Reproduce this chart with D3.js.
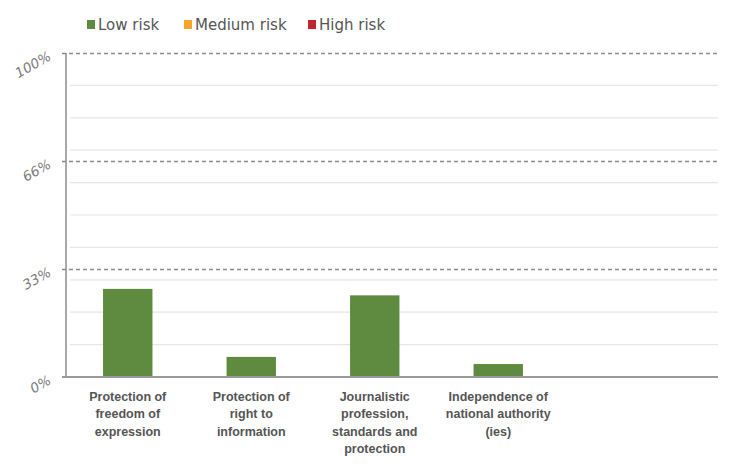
<!DOCTYPE html>
<html>
<head>
<meta charset="utf-8">
<script src="https://cdn.jsdelivr.net/npm/d3@7"></script>
<style>
  body { margin: 0; background: #fff; }
  #chart { width: 750px; height: 470px; }
</style>
</head>
<body>
<div id="chart"></div>
<script>
// data
const categories = [
    ["Protection of", "freedom of", "expression"],
    ["Protection of", "right to", "information"],
    ["Journalistic", "profession,", "standards and", "protection"],
    ["Independence of", "national authority", "(ies)"]
];
const lowRisk = [27.2, 6.2, 25.2, 4.0];
const riskLabels = ["Low risk", "Medium risk", "High risk"];
const riskColors = ["#5e8b3f", "#f5a52a", "#c0272d"];
const thresholds = [0, 100 / 3, 200 / 3, 100];
const thresholdLabels = ["0%", "33%", "66%", "100%"];
const gridValues = [10, 20, 30, 40, 50, 60, 70, 80, 90];

const width = 750, height = 470;
const margin = { top: 53, right: 32, bottom: 93, left: 66 };
const mheight = height - margin.top - margin.bottom;
const mwidth = width - margin.left - margin.right;

const svg = d3.select("#chart").append("svg")
    .attr("width", width)
    .attr("height", height);

const yScale = d3.scaleLinear().domain([0, 100]).range([mheight, 0]);
const xScale = d3.scaleBand()
    .domain(d3.range(categories.length))
    .range([0, 494])
    .paddingInner(0.6)
    .paddingOuter(0.3);

const g = svg.append("g")
    .attr("transform", "translate(" + margin.left + "," + margin.top + ")");

// light gridlines
g.selectAll(".grid")
    .data(gridValues)
    .enter().append("line")
    .attr("x1", 4).attr("x2", mwidth)
    .attr("y1", d => yScale(d)).attr("y2", d => yScale(d))
    .attr("stroke", "#e6e6e6")
    .attr("stroke-width", 1.2);

// dashed threshold lines
g.selectAll(".thr")
    .data(thresholds.slice(1))
    .enter().append("line")
    .attr("x1", -4).attr("x2", mwidth)
    .attr("y1", d => Math.round(yScale(d)) + 0.5).attr("y2", d => Math.round(yScale(d)) + 0.5)
    .attr("stroke", "#8a8a8a")
    .attr("stroke-width", 1.3)
    .attr("stroke-dasharray", "4,3");

// y axis
g.append("line")
    .attr("x1", 0).attr("x2", 0)
    .attr("y1", 0).attr("y2", mheight)
    .attr("stroke", "#8c8c8c")
    .attr("stroke-width", 1.5);

g.selectAll(".ylab")
    .data(thresholds)
    .enter().append("text")
    .attr("transform", d => "translate(-14," + (yScale(d) + 6) + ") rotate(-30)")
    .attr("text-anchor", "end")
    .style("font-family", "'DejaVu Sans', sans-serif")
    .style("font-style", "italic")
    .style("font-size", "13.5px")
    .style("fill", "#7a7a7a")
    .text((d, i) => thresholdLabels[i]);

// bars
g.selectAll(".bar")
    .data(lowRisk)
    .enter().append("rect")
    .attr("x", (d, i) => xScale(i))
    .attr("width", xScale.bandwidth())
    .attr("y", d => yScale(d))
    .attr("height", d => mheight - yScale(d))
    .style("fill", riskColors[0]);

// x axis line
g.append("line")
    .attr("x1", -4).attr("x2", mwidth)
    .attr("y1", mheight).attr("y2", mheight)
    .attr("stroke", "#9a9a9a")
    .attr("stroke-width", 2);

// category labels
const lab = g.selectAll(".xlab")
    .data(categories)
    .enter().append("text")
    .attr("text-anchor", "middle")
    .style("font-family", "'Liberation Sans', Arial, sans-serif")
    .style("font-weight", "bold")
    .style("font-size", "12.5px")
    .style("fill", "#555");

lab.selectAll("tspan")
    .data((d, i) => d.map(t => ({ t: t, i: i })))
    .enter().append("tspan")
    .attr("x", d => xScale(d.i) + xScale.bandwidth() / 2)
    .attr("y", (d, j) => mheight + 24 + j * 17.3)
    .text(d => d.t);

// legend
const legend = svg.append("g")
    .attr("transform", "translate(87,25)");
const lx = [0, 97, 221];
const item = legend.selectAll(".item")
    .data(riskLabels)
    .enter().append("g")
    .attr("transform", (d, i) => "translate(" + lx[i] + ",0)");
item.append("rect")
    .attr("x", 0).attr("y", -5)
    .attr("width", 8).attr("height", 9)
    .style("fill", (d, i) => riskColors[i]);
item.append("text")
    .attr("x", 11).attr("y", 5)
    .style("font-family", "'DejaVu Sans', Verdana, sans-serif")
    .style("font-size", "15px")
    .style("fill", "#555")
    .text(d => d);
</script>
</body>
</html>
